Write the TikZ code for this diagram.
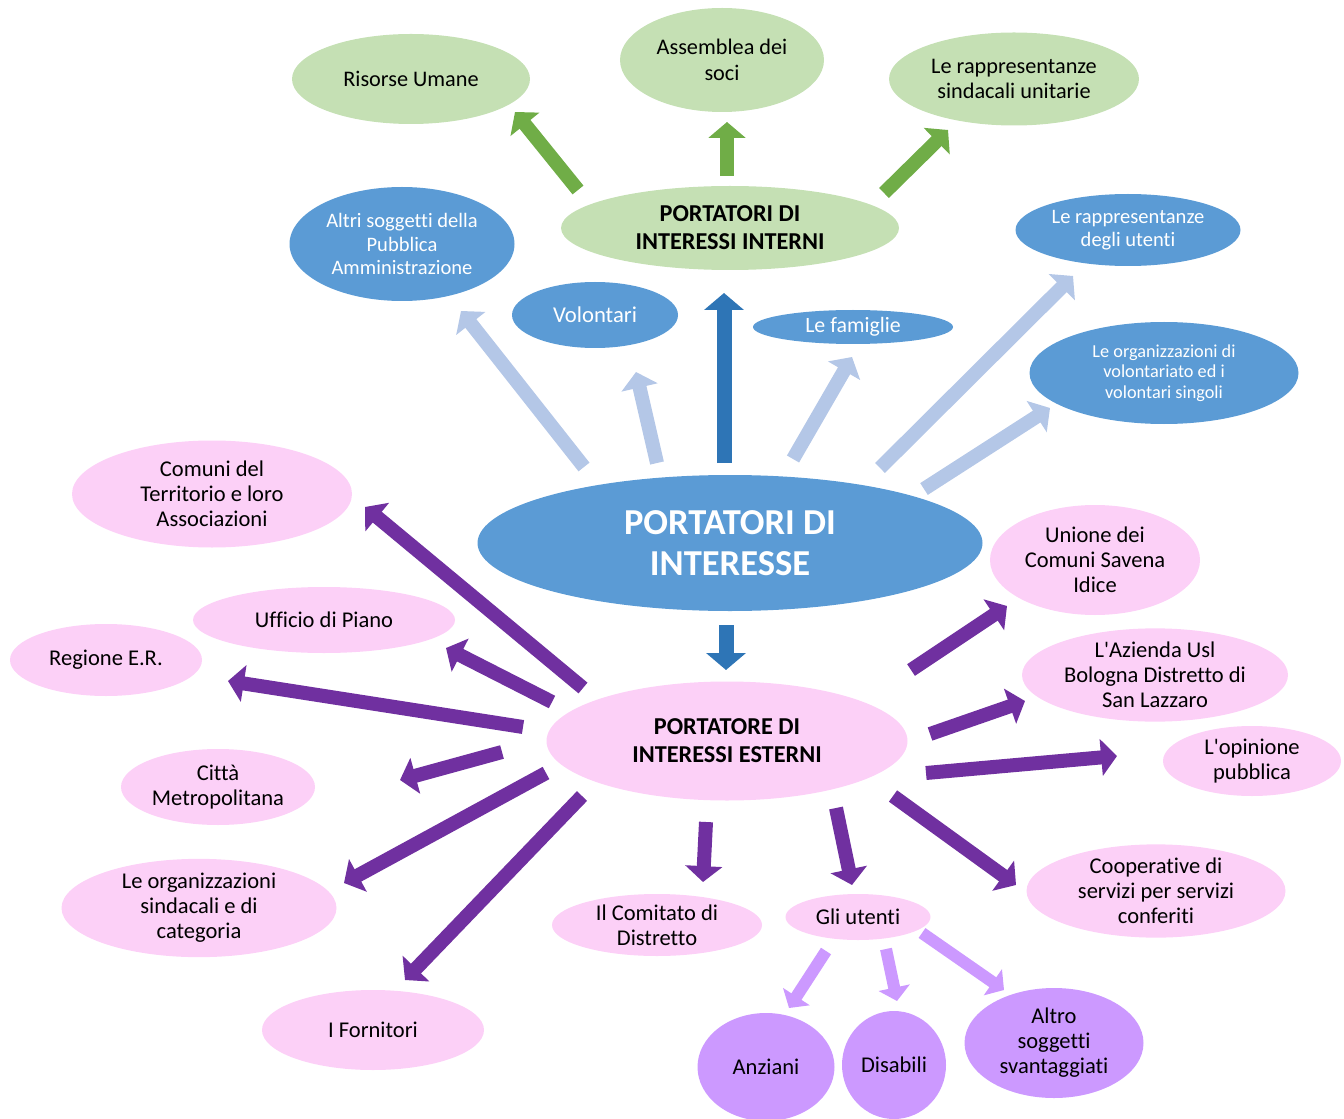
\documentclass[tikz,border=0pt]{standalone}
\usepackage{fontspec}
\setmainfont{Carlito}[Ligatures={TeXOff,NoCommon}]
\usetikzlibrary{shapes.geometric,arrows.meta}
\definecolor{gfill}{HTML}{C5E0B4}
\definecolor{garrow}{HTML}{70AD47}
\definecolor{bfill}{HTML}{5B9BD5}
\definecolor{lbarrow}{HTML}{B4C7E7}
\definecolor{dbarrow}{HTML}{2E75B6}
\definecolor{pfill}{HTML}{FCD0F7}
\definecolor{parrow}{HTML}{7030A0}
\definecolor{lparrow}{HTML}{CC99FF}
\definecolor{vfill}{HTML}{CC99FF}
\tikzset{
  ell/.style={ellipse, inner sep=0pt, align=center, text=black},
  sz/.style 2 args={minimum width=#1*0.75pt, minimum height=#2*0.75pt},
  gnode/.style={ell, fill=gfill, font=\fontsize{16.7}{19.3}\selectfont},
  bnode/.style={ell, fill=bfill, text=white, font=\fontsize{15.4}{17.3}\selectfont},
  pnode/.style={ell, fill=pfill, font=\fontsize{16.9}{18.8}\selectfont},
  vnode/.style={ell, fill=vfill, font=\fontsize{16.9}{18.8}\selectfont},
  blockarrow/.style={line width=#1*0.75pt, -{Triangle[width=#1*1.95pt, length=#1*0.85pt]}},
  garr/.style={blockarrow=14, draw=garrow},
  lbarr/.style={blockarrow=14, draw=lbarrow},
  dbarr/.style={blockarrow=15, draw=dbarrow},
  parr/.style={blockarrow=14, draw=parrow},
  lparr/.style={blockarrow=12, draw=lparrow},
}
\begin{document}
\begin{tikzpicture}[x=0.75pt,y=-0.75pt]
\useasboundingbox (0,0) rectangle (1344,1119);
% green
\node[gnode, sz={238}{90}] (ris) at (411,79) {Risorse Umane};
\node[gnode, sz={204}{104}] (ass) at (722,60) {Assemblea dei\\soci};
\node[gnode, sz={250}{93}] (sind) at (1014,79) {Le rappresentanze\\sindacali unitarie};
\node[gnode, sz={338}{84}, font=\bfseries\fontsize{18.2}{21}\selectfont] (int) at (730,228) {PORTATORI DI\\INTERESSI INTERNI};
% blue
\node[bnode, sz={225}{114}] (altri) at (402,244) {Altri soggetti della\\Pubblica\\Amministrazione};
\node[bnode, sz={166}{66}, font=\fontsize{17}{18}\selectfont] (vol) at (595,315) {Volontari};
\node[bnode, sz={200}{34}, font=\fontsize{16.4}{18}\selectfont] (fam) at (853,327) {Le famiglie};
\node[bnode, sz={225}{72}] (rut) at (1128,230) {Le rappresentanze\\degli utenti};
\node[bnode, sz={269}{102}, font=\fontsize{13.7}{15.3}\selectfont] (orgv) at (1164,373) {Le organizzazioni di\\volontariato ed i\\volontari singoli};
\node[bnode, sz={505}{136}, font=\bfseries\fontsize{27.4}{30.8}\selectfont] (main) at (730,543) {PORTATORI DI\\INTERESSE};
% pink
\node[pnode, sz={280}{107}] (com) at (212,494) {Comuni del\\Territorio e loro\\Associazioni};
\node[pnode, sz={262}{66}] (uff) at (324,620) {Ufficio di Piano};
\node[pnode, sz={192}{72}] (reg) at (106,660) {Regione E.R.};
\node[pnode, sz={194}{76}] (citta) at (218,787) {Città\\Metropolitana};
\node[pnode, sz={275}{94}] (osind) at (199,908) {Le organizzazioni\\sindacali e di\\categoria};
\node[pnode, sz={222}{80}] (forn) at (373,1030) {I Fornitori};
\node[pnode, sz={361}{119}, font=\bfseries\fontsize{18.2}{21}\selectfont] (est) at (727,741) {PORTATORE DI\\INTERESSI ESTERNI};
\node[pnode, sz={210}{62}] (comit) at (657,925) {Il Comitato di\\Distretto};
\node[pnode, sz={145}{46}] (ut) at (858,917) {Gli utenti};
\node[pnode, sz={210}{110}] (unione) at (1095,560) {Unione dei\\Comuni Savena\\Idice};
\node[pnode, sz={266}{75}] (ausl) at (1155,675) {L'Azienda Usl\\Bologna Distretto di\\San Lazzaro};
\node[pnode, sz={178}{70}] (opin) at (1252,761) {L'opinione\\pubblica};
\node[pnode, sz={259}{82}] (coop) at (1156,891) {Cooperative di\\servizi per servizi\\conferiti};
% violet
\node[vnode, sz={137}{108}] (anz) at (766,1067) {Anziani};
\node[vnode, sz={104}{108}] (dis) at (894,1065) {Disabili};
\node[vnode, sz={179}{110}] (altro) at (1054,1043) {Altro\\soggetti\\svantaggiati};
% arrow end points
\coordinate (g1a) at (578,190); \coordinate (g1b) at (515,112);
\coordinate (g2a) at (727,176); \coordinate (g2b) at (727,122);
\coordinate (g3a) at (884,193); \coordinate (g3b) at (948,130);
\coordinate (b1a) at (584,467); \coordinate (b1b) at (461,311);
\coordinate (b2a) at (657,463); \coordinate (b2b) at (636,372);
\coordinate (b3a) at (724,463); \coordinate (b3b) at (724,293);
\coordinate (b4a) at (793,459); \coordinate (b4b) at (852,357);
\coordinate (b5a) at (880,468); \coordinate (b5b) at (1073,276);
\coordinate (b6a) at (924,489); \coordinate (b6b) at (1050,408);
\coordinate (b7a) at (726,625); \coordinate (b7b) at (726,670);
\coordinate (p1a) at (583,688); \coordinate (p1b) at (365,507);
\coordinate (p2a) at (552,702); \coordinate (p2b) at (446,648);
\coordinate (p3a) at (523,727); \coordinate (p3b) at (228,681);
\coordinate (p4a) at (502,752); \coordinate (p4b) at (400,780);
\coordinate (p5a) at (546,773); \coordinate (p5b) at (344,883);
\coordinate (p6a) at (582,796); \coordinate (p6b) at (405,980);
\coordinate (p7a) at (706,822); \coordinate (p7b) at (703,882);
\coordinate (p8a) at (836,808); \coordinate (p8b) at (852,885);
\coordinate (p9a) at (893,796); \coordinate (p9b) at (1016,885);
\coordinate (p10a) at (911,670); \coordinate (p10b) at (1007,606);
\coordinate (p11a) at (930,734); \coordinate (p11b) at (1025,701);
\coordinate (p12a) at (926,773); \coordinate (p12b) at (1117,756);
\coordinate (v1a) at (826,951); \coordinate (v1b) at (789,1008);
\coordinate (v2a) at (886,949); \coordinate (v2b) at (897,1001);
\coordinate (v3a) at (922,933); \coordinate (v3b) at (1004,990);
% arrows
\draw[garr] (g1a) -- (g1b);
\draw[garr] (g2a) -- (g2b);
\draw[garr] (g3a) -- (g3b);
\draw[lbarr] (b1a) -- (b1b);
\draw[lbarr] (b2a) -- (b2b);
\draw[dbarr] (b3a) -- (b3b);
\draw[lbarr] (b4a) -- (b4b);
\draw[lbarr] (b5a) -- (b5b);
\draw[lbarr] (b6a) -- (b6b);
\draw[dbarr] (b7a) -- (b7b);
\foreach \i in {1,...,12} {\draw[parr] (p\i a) -- (p\i b);}
\draw[lparr] (v1a) -- (v1b);
\draw[lparr] (v2a) -- (v2b);
\draw[lparr] (v3a) -- (v3b);
\end{tikzpicture}
\end{document}
